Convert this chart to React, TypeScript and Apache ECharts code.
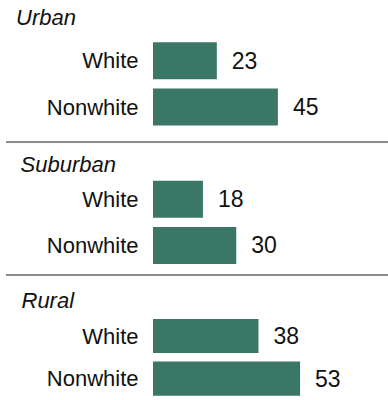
import React, { useEffect, useRef } from "react";
import * as echarts from "echarts";

const groups = ["Urban", "Suburban", "Rural"];
const categories = ["White", "Nonwhite"];
const urbanValues = [23, 45];
const suburbanValues = [18, 30];
const ruralValues = [38, 53];

const FONT = "Liberation Sans";
const BAR_COLOR = "#3a7766";

export default function App() {
  const ref = useRef<HTMLDivElement>(null);
  useEffect(() => {
    if (!ref.current) return;
    const chart = echarts.init(ref.current, null, { renderer: "svg" });
    const seriesValues = [urbanValues, suburbanValues, ruralValues];
    const gridTops = [37.7, 176, 314.7];
    const titleY = [17.5, 164.7, 300.5];
    const titleX = [16, 20.5, 21.5];
    const grids = gridTops.map((top) => ({
      left: 153,
      top,
      width: 222,
      height: 92.5,
      containLabel: false,
    }));
    const xAxes = gridTops.map((_, i) => ({
      type: "value" as const,
      gridIndex: i,
      min: 0,
      max: 80,
      show: false,
    }));
    const yAxes = gridTops.map((_, i) => ({
      type: "category" as const,
      gridIndex: i,
      data: categories,
      inverse: true,
      axisLine: { show: false },
      axisTick: { show: false },
      axisLabel: {
        margin: 14.5,
        color: "#111",
        fontFamily: FONT,
        fontSize: 22,
      },
    }));
    const series = seriesValues.map((vals, i) => ({
      type: "bar" as const,
      xAxisIndex: i,
      yAxisIndex: i,
      data: vals,
      barCategoryGap: "20%",
      itemStyle: { color: BAR_COLOR },
      label: {
        show: true,
        position: "right" as const,
        distance: 15,
        color: "#111",
        fontFamily: FONT,
        fontSize: 23,
      },
    }));
    const graphic: any[] = groups.map((g, i) => ({
      type: "text",
      x: titleX[i],
      y: titleY[i],
      style: {
        text: g,
        fontFamily: FONT,
        fontStyle: "italic",
        fontSize: 22,
        fill: "#111",
        verticalAlign: "middle",
      },
    }));
    [142, 275].forEach((y) => {
      graphic.push({
        type: "line",
        shape: { x1: 6, y1: y, x2: 388, y2: y },
        style: { stroke: "#8c8c8c", lineWidth: 2 },
      });
    });
    chart.setOption({
      animation: false,
      backgroundColor: "#fff",
      grid: grids,
      xAxis: xAxes,
      yAxis: yAxes,
      series,
      graphic,
    });
    return () => chart.dispose();
  }, []);
  return <div ref={ref} style={{ width: 388, height: 400, position: "absolute", left: 0, top: 0 }} />;
}
